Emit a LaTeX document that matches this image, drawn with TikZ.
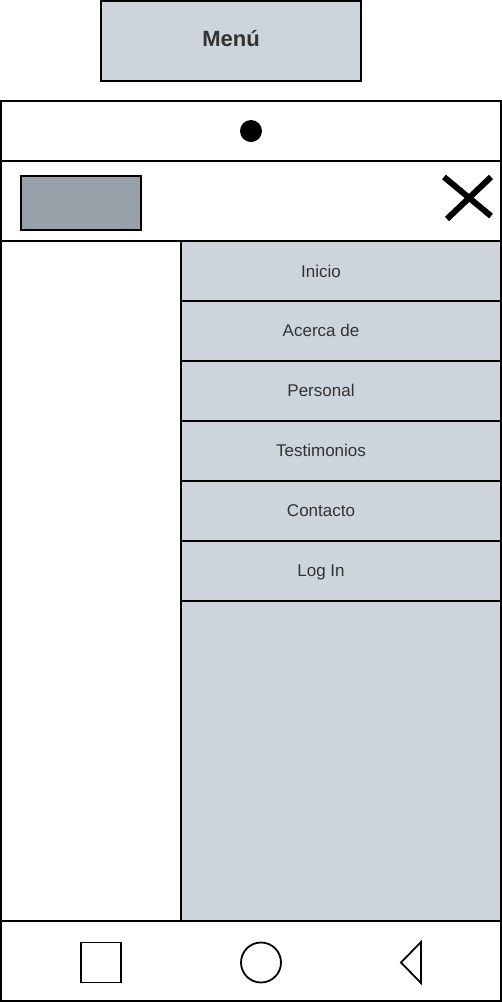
\documentclass[tikz,border=0pt]{standalone}
\usepackage{fontspec}
\setmainfont{Liberation Sans}
\definecolor{panel}{HTML}{CED4DC}
\definecolor{logo}{HTML}{98A0AA}
\definecolor{txt}{HTML}{333333}
\begin{document}
\begin{tikzpicture}[x=1pt,y=-1pt,
  box/.style={draw=black,line width=2pt,inner sep=0pt,outer sep=0pt,anchor=north west},
  item/.style={box,fill=panel,minimum width=320pt,minimum height=60pt},
  lab/.style={anchor=base,text=txt,inner sep=0pt,font=\fontsize{17}{20}\selectfont},
  icon/.style={draw=black,line width=1.8pt}]
\useasboundingbox (0,0) rectangle (502,1002);
\node[box,fill=panel,minimum width=260pt,minimum height=80pt] (menu) at (101,1) {};
\node[anchor=base,text=txt,inner sep=0pt,font=\bfseries\fontsize{22}{26}\selectfont] (menut) at (231,46.7) {Menú};
% phone
\node[box,fill=white,minimum width=500pt,minimum height=60pt] (top) at (1,101) {};
\node[circle,fill=black,minimum size=22pt,inner sep=0pt] (cam) at (251,131) {};
\node[box,fill=white,minimum width=500pt,minimum height=80pt] (head) at (1,161) {};
\node[box,fill=logo,minimum width=120pt,minimum height=54pt] (logo) at (21,176) {};
\coordinate (x1) at (444,177);
\coordinate (x2) at (491,216);
\coordinate (x3) at (491,177);
\coordinate (x4) at (447,219);
\draw[line width=6pt] (x1) -- (x2);
\draw[line width=6pt] (x3) -- (x4);
\node[box,fill=white,minimum width=180pt,minimum height=680pt] (side) at (1,241) {};
\node[box,fill=panel,minimum width=320pt,minimum height=680pt] (panel) at (181,241) {};
\node[item] (i1) at (181,241) {};
\node[item] (i2) at (181,301) {};
\node[item] (i3) at (181,361) {};
\node[item] (i4) at (181,421) {};
\node[item] (i5) at (181,481) {};
\node[item] (i6) at (181,541) {};
\node[lab] (l1) at (321,277) {Inicio};
\node[lab] (l2) at (321,336.5) {Acerca de};
\node[lab] (l3) at (321,396) {Personal};
\node[lab] (l4) at (321,456) {Testimonios};
\node[lab] (l5) at (321,516) {Contacto};
\node[lab] (l6) at (321,576) {Log In};
\node[box,fill=white,minimum width=500pt,minimum height=80pt] (bot) at (1,921) {};
\node[icon,minimum width=40pt,minimum height=40pt,inner sep=0pt,outer sep=0pt] (sq) at (101,962.5) {};
\node[icon,circle,minimum size=40pt,inner sep=0pt,outer sep=0pt] (ci) at (261,962.5) {};
\draw[icon,line join=miter] (421,942) -- (401,962.5) -- (421,983) -- cycle;
\end{tikzpicture}
\end{document}
